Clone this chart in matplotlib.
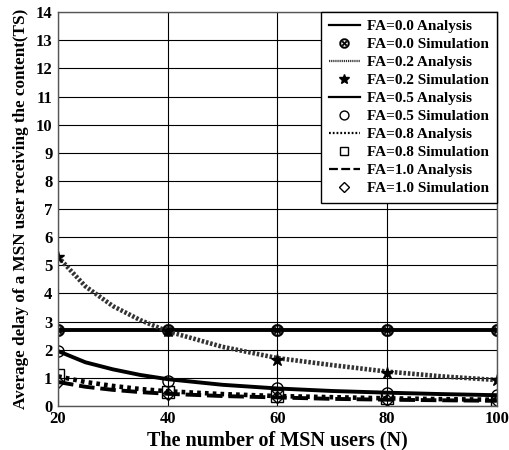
import matplotlib
matplotlib.use('Agg')
import matplotlib.pyplot as plt

plt.rcParams['font.family'] = ['Liberation Serif', 'DejaVu Serif']
plt.rcParams['font.weight'] = 'bold'

# simulation points
n_sim = [20, 40, 60, 80, 100]
sim_00 = [2.7, 2.7, 2.7, 2.7, 2.7]
sim_02 = [5.3, 2.65, 1.64, 1.18, 0.92]
sim_05 = [1.95, 0.9, 0.62, 0.47, 0.38]
sim_08 = [1.1, 0.5, 0.35, 0.27, 0.22]
sim_10 = [0.85, 0.43, 0.3, 0.22, 0.18]

# analysis curves
n_ana = [20, 25, 30, 35, 40, 50, 60, 70, 80, 90, 100]
ana_00 = [2.7, 2.7, 2.7, 2.7, 2.7, 2.7, 2.7, 2.7, 2.7, 2.7, 2.7]
ana_02 = [5.3, 4.25, 3.55, 3.05, 2.65, 2.1, 1.7, 1.45, 1.22, 1.05, 0.92]
ana_05 = [1.95, 1.55, 1.3, 1.1, 0.95, 0.75, 0.62, 0.53, 0.47, 0.42, 0.38]
ana_08 = [1.05, 0.85, 0.71, 0.6, 0.52, 0.42, 0.35, 0.31, 0.27, 0.24, 0.22]
ana_10 = [0.85, 0.68, 0.57, 0.49, 0.43, 0.35, 0.3, 0.25, 0.22, 0.2, 0.18]

fig = plt.figure(figsize=(5.09, 4.5), dpi=100)
ax = fig.add_axes([0.114, 0.098, 0.862, 0.875])

lw = 2.8
ms = 8
mk = dict(color='black', markerfacecolor='none', markeredgecolor='black', markeredgewidth=1.0, linestyle='none')

ax.plot(n_ana, ana_00, color='black', lw=lw, label='FA=0.0 Analysis')
ax.plot(n_sim, sim_00, marker='$\\otimes$', markersize=ms + 1, label='FA=0.0 Simulation', **{**mk, 'markerfacecolor': 'black', 'markeredgewidth': 0.3})
ax.plot(n_ana, ana_02, color='#333333', lw=3.3, linestyle=(0, (0.55, 0.4)), label='FA=0.2 Analysis')
ax.plot(n_sim, sim_02, marker='*', markersize=ms + 1, label='FA=0.2 Simulation', **{**mk, 'markerfacecolor': 'black'})
ax.plot(n_ana, ana_05, color='black', lw=lw, label='FA=0.5 Analysis')
ax.plot(n_sim, sim_05, marker='o', markersize=ms, label='FA=0.5 Simulation', **mk)
ax.plot(n_ana, ana_08, color='black', lw=3.3, linestyle=(0, (0.8, 0.9)), label='FA=0.8 Analysis')
ax.plot(n_sim, sim_08, marker='s', markersize=ms, label='FA=0.8 Simulation', **mk)
ax.plot(n_ana, ana_10, color='black', lw=lw, linestyle=(0, (4, 1.5)), label='FA=1.0 Analysis')
ax.plot(n_sim, sim_10, marker='D', markersize=ms - 1.5, label='FA=1.0 Simulation', **mk)

ax.set_xlim(20, 100)
ax.set_ylim(0, 14)
ax.set_xticks([20, 40, 60, 80, 100])
ax.set_yticks(range(0, 15))
ax.grid(True, color='black', lw=0.8)
ax.tick_params(labelsize=12, length=0, pad=4)
for s in ax.spines.values():
    s.set_color('#555555')
    s.set_linewidth(1.0)

ax.set_xlabel('The number of MSN users (N)', fontsize=14.5, fontweight='bold', labelpad=2)
ax.set_ylabel('Average delay of a MSN user receiving the content(TS)', fontsize=12.3, fontweight='bold', labelpad=5)

leg = ax.legend(loc='upper right', borderaxespad=0, fontsize=11, fancybox=False,
                framealpha=1, edgecolor='black', handlelength=2.0, labelspacing=0.28,
                handletextpad=0.5, borderpad=0.5, markerscale=0.8)
for line in leg.get_lines():
    line.set_linewidth(1.6)
leg.get_frame().set_linewidth(1.0)

fig.savefig('out.png', dpi=100)
